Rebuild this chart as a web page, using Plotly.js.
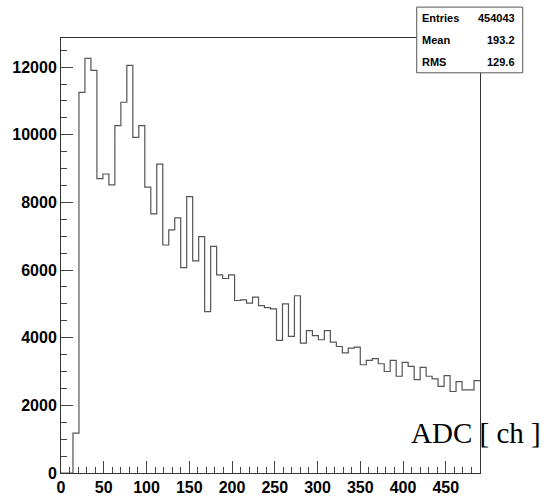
<!DOCTYPE html>
<html>
<head>
<meta charset="utf-8">
<script src="https://cdn.plot.ly/plotly-3.0.1.min.js"></script>
<style>
  html, body { margin: 0; padding: 0; background: #fff; }
  #chart { width: 547px; height: 501px; }
</style>
</head>
<body>
<div id="chart"></div>
<script>
// ADC spectrum, 70 bins of 7 channels from 0 to 490
const binWidth = 7;
const counts = [
  0, 0, 1180, 11250, 12260, 11900, 8700, 8840, 8520, 10270,
  10960, 12050, 9920, 10270, 8450, 7660, 9130, 6740, 7190, 7540,
  6070, 8170, 6270, 6990, 4770, 6700, 5860, 5750, 5860, 5100,
  5120, 5020, 5200, 4950, 4890, 4850, 3920, 5000, 4040, 5240,
  3840, 4210, 4060, 3940, 4210, 3870, 3740, 3550, 3690, 3720,
  3200, 3330, 3380, 3230, 3000, 3330, 2860, 3270, 3150, 2760,
  3120, 2860, 2780, 2560, 2880, 2410, 2700, 2460, 2460, 2730
];
const statNames = ["Entries", "Mean", "RMS"];
const statValues = ["454043", "193.2", "129.6"];
const xTitle = "ADC [ ch ]";

// step outline: one point per lower bin edge plus the closing upper edge
const edges = counts.map((_, i) => i * binWidth);
edges.push(counts.length * binWidth);
const steps = counts.concat([counts[counts.length - 1]]);

const trace = {
  type: "scatter",
  mode: "lines",
  x: edges,
  y: steps,
  line: { shape: "hv", color: "#555", width: 1.2 },
  hoverinfo: "x+y"
};

const tickFont = { family: "Liberation Sans, Arial, sans-serif", size: 16, color: "#000", weight: "bold" };

// stats box (paper coordinates relative to the frame)
const boxX0 = 0.849, boxX1 = 1.102, boxY0 = 0.920, boxY1 = 1.071;
const rowY = [1.047, 0.995, 0.9455];
const annotations = [];
statNames.forEach((name, i) => {
  annotations.push({
    xref: "paper", yref: "paper", x: 0.857, y: rowY[i],
    xanchor: "left", yanchor: "middle", showarrow: false, text: "<b>" + name + "</b>",
    font: { family: "Liberation Sans, Arial, sans-serif", size: 11, color: "#000" }
  });
  annotations.push({
    xref: "paper", yref: "paper", x: 1.0876, y: rowY[i],
    xanchor: "right", yanchor: "middle", showarrow: false, text: "<b>" + statValues[i] + "</b>",
    font: { family: "Liberation Sans, Arial, sans-serif", size: 11, color: "#000" }
  });
});
annotations.push({
  xref: "paper", yref: "paper", x: 1.150, y: 0.092,
  xanchor: "right", yanchor: "middle", showarrow: false, text: xTitle,
  font: { family: "Liberation Serif, Times New Roman, serif", size: 29, color: "#000" }
});

const layout = {
  width: 547, height: 501,
  margin: { l: 61, r: 67, t: 38, b: 28, pad: 0 },
  paper_bgcolor: "#fff", plot_bgcolor: "#fff",
  showlegend: false,
  xaxis: {
    range: [0, 490], tick0: 0, dtick: 50, tickformat: "d",
    ticks: "inside", ticklen: 12, tickcolor: "#444", tickwidth: 1,
    minor: { ticks: "inside", ticklen: 6, dtick: 10, tickcolor: "#444", tickwidth: 1, showgrid: false },
    showline: true, mirror: true, linecolor: "#333", linewidth: 1,
    showgrid: false, zeroline: false, tickfont: tickFont
  },
  yaxis: {
    range: [0, 12860], tick0: 0, dtick: 2000, tickformat: "d",
    ticks: "inside", ticklen: 12, tickcolor: "#444", tickwidth: 1,
    minor: { ticks: "inside", ticklen: 6, dtick: 500, tickcolor: "#444", tickwidth: 1, showgrid: false },
    showline: true, mirror: true, linecolor: "#333", linewidth: 1,
    showgrid: false, zeroline: false, tickfont: tickFont
  },
  shapes: [{
    type: "rect", xref: "paper", yref: "paper", layer: "above",
    x0: boxX0, x1: boxX1, y0: boxY0, y1: boxY1,
    fillcolor: "#fff", line: { color: "#555", width: 1 }
  }],
  annotations: annotations
};

Plotly.newPlot("chart", [trace], layout, { staticPlot: true, displayModeBar: false });
</script>
</body>
</html>
